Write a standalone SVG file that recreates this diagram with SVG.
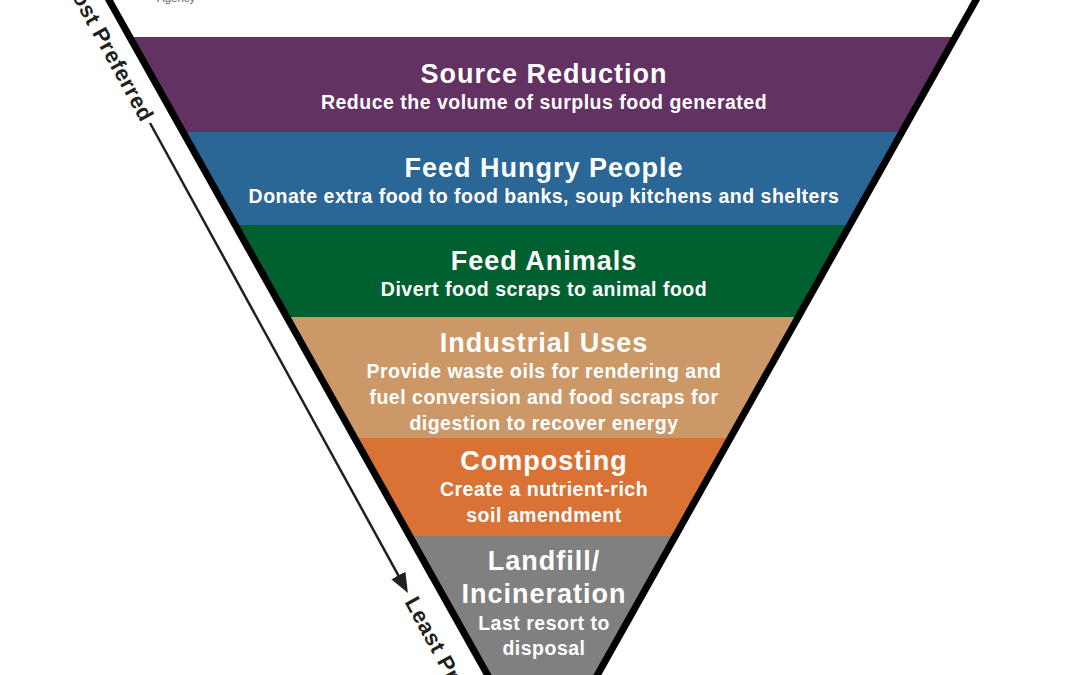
<svg xmlns="http://www.w3.org/2000/svg" width="1080" height="675" viewBox="0 0 1080 675">
<style>
.t{font-family:"Liberation Sans",Arial,Helvetica,sans-serif;font-weight:bold;fill:#fff;text-anchor:middle}
.h{font-size:27px;letter-spacing:1px}
.s{font-size:19.5px;letter-spacing:0.5px}
.side{font-family:"Liberation Sans",Arial,Helvetica,sans-serif;font-weight:bold;font-size:22px;letter-spacing:0.6px;fill:#231f20}
.edge{stroke:#000;stroke-width:7;fill:none}
</style>
<defs>
<marker id="ah" viewBox="0 -8 20 16" refX="2" refY="0" markerWidth="20" markerHeight="16" markerUnits="userSpaceOnUse" orient="auto">
<path d="M0,-8 L20,0 L0,8 z" fill="#231f20"/>
</marker>
</defs>
<rect width="1080" height="675" fill="#fff"/>
<text x="157" y="2" font-family="Liberation Sans,Arial,sans-serif" font-size="11.5" fill="#666">Agency</text>

<g id="source-reduction">
<polygon points="129.8,37 955.2,37 901.9,132 183.1,132" fill="#623262"/>
<text class="t h" x="544" y="83">Source Reduction</text>
<text class="t s" x="544" y="109">Reduce the volume of surplus food generated</text>
</g>
<g id="feed-hungry-people">
<polygon points="183.1,132 901.9,132 849.8,225 235.2,225" fill="#2b6796"/>
<text class="t h" x="544" y="177">Feed Hungry People</text>
<text class="t s" x="544" y="203">Donate extra food to food banks, soup kitchens and shelters</text>
</g>
<g id="feed-animals">
<polygon points="235.2,225 849.8,225 798.2,317 286.8,317" fill="#00602f"/>
<text class="t h" x="544" y="270">Feed Animals</text>
<text class="t s" x="544" y="296">Divert food scraps to animal food</text>
</g>
<g id="industrial-uses">
<polygon points="286.8,317 798.2,317 730.3,438 354.7,438" fill="#cd9867"/>
<text class="t h" x="544" y="352">Industrial Uses</text>
<text class="t s" x="544" y="378">Provide waste oils for rendering and</text>
<text class="t s" x="544" y="404">fuel conversion and food scraps for</text>
<text class="t s" x="544" y="430">digestion to recover energy</text>
</g>
<g id="composting">
<polygon points="354.7,438 730.3,438 675.3,536 409.7,536" fill="#da7236"/>
<text class="t h" x="544" y="470">Composting</text>
<text class="t s" x="544" y="496">Create a nutrient-rich</text>
<text class="t s" x="544" y="522">soil amendment</text>
</g>
<g id="landfill-incineration">
<polygon points="409.7,536 675.3,536 597.3,675 487.7,675" fill="#808080"/>
<text class="t h" x="544" y="570">Landfill/</text>
<text class="t h" x="544" y="603">Incineration</text>
<text class="t s" x="544" y="630">Last resort to</text>
<text class="t s" x="544" y="655">disposal</text>
</g>

<g id="triangle-edges">
<line class="edge" x1="105.6" y1="-6" x2="491" y2="681"/>
<line class="edge" x1="979.4" y1="-6" x2="594" y2="681"/>
</g>

<g id="connectors">
<line x1="150" y1="123" x2="399.3" y2="577.2" stroke="#231f20" stroke-width="2.5" marker-end="url(#ah)"/>
</g>
<g id="labels">
<text class="side" text-anchor="end" dy="0.35em" transform="translate(148.1,119.5) rotate(61.23)">Most Preferred</text>
<text class="side" text-anchor="start" dy="0.35em" transform="translate(410.9,598.3) rotate(61.23)">Least Preferred</text>
</g>
</svg>
